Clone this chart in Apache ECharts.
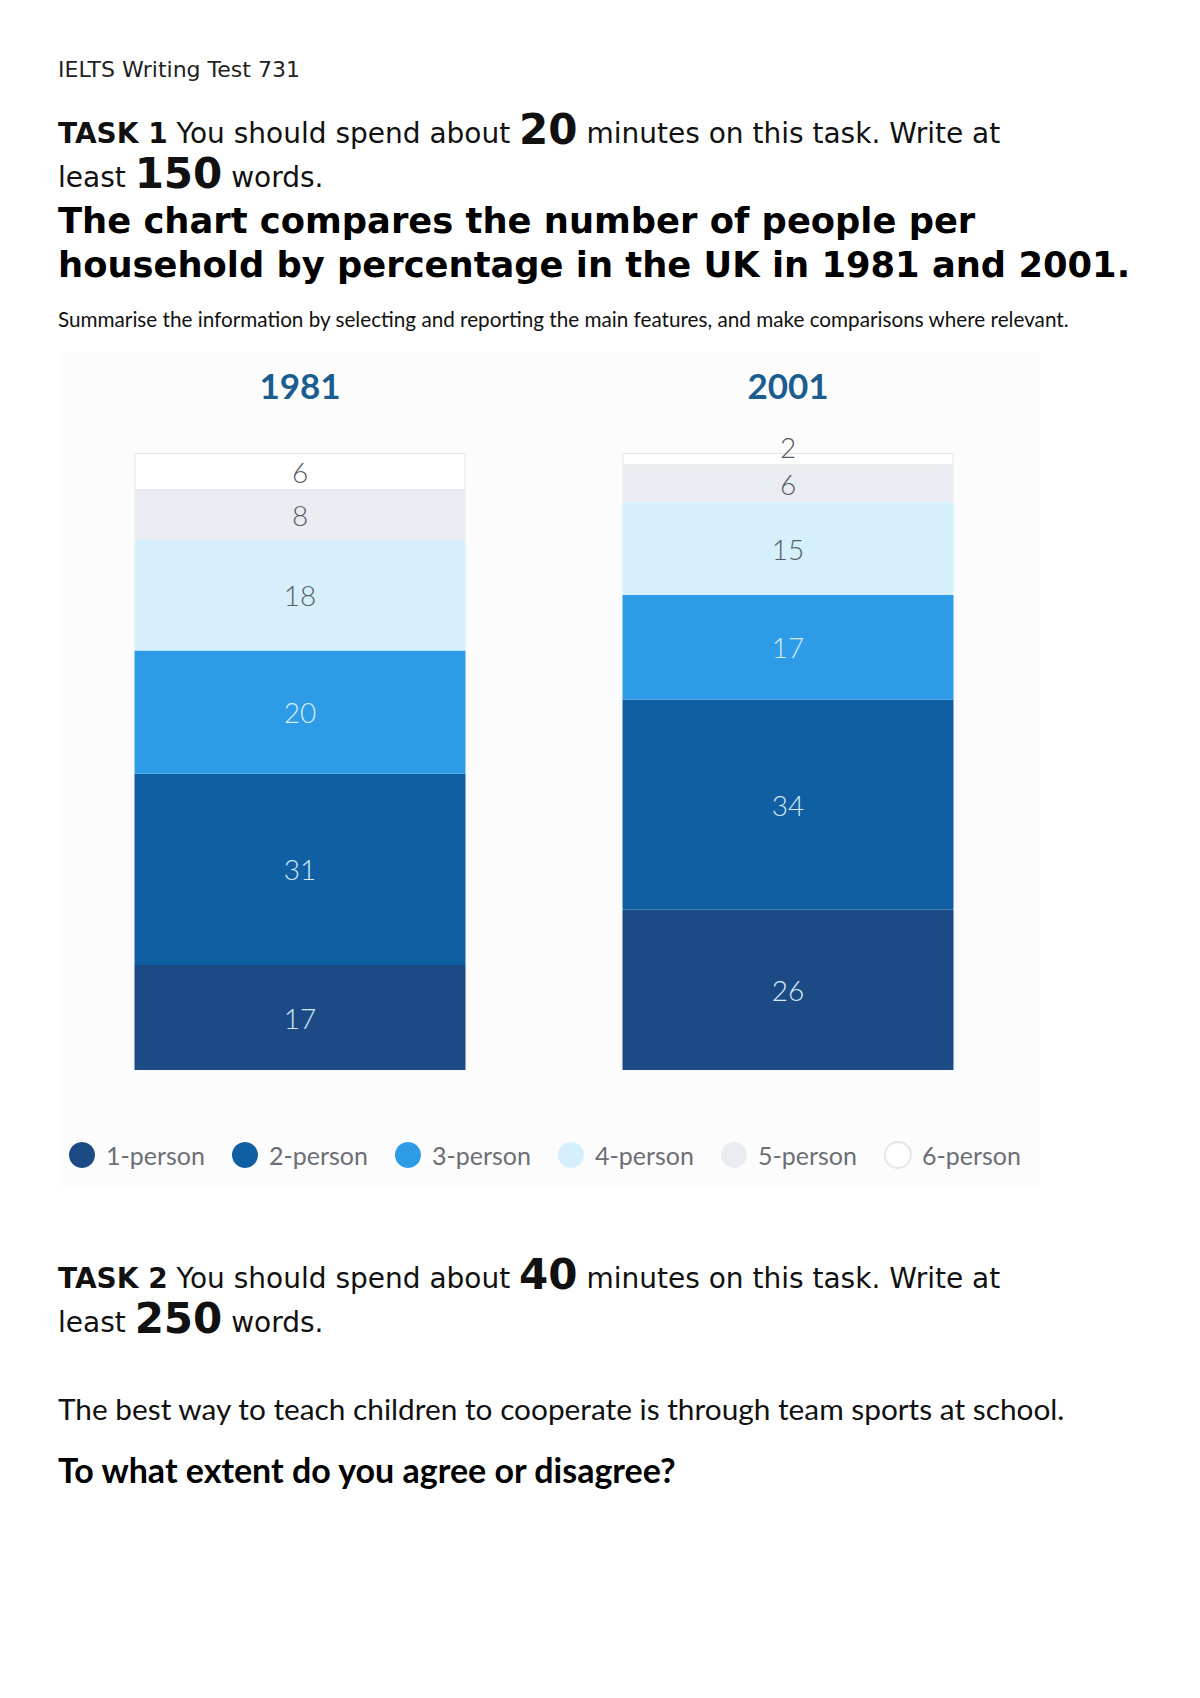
<!DOCTYPE html>
<html>
<head>
<meta charset="utf-8">
<script src="https://cdn.jsdelivr.net/npm/echarts@6/dist/echarts.min.js"></script>
<style>
html,body{margin:0;padding:0;background:#fff;}
#main{width:1200px;height:1698px;}
</style>
</head>
<body>
<div id="main"></div>
<script>
// ---- data ----
const years = ['1981', '2001'];
const seriesNames = ['1-person', '2-person', '3-person', '4-person', '5-person', '6-person'];
const person1 = [17, 26];
const person2 = [31, 34];
const person3 = [20, 17];
const person4 = [18, 15];
const person5 = [8, 6];
const person6 = [6, 2];
const values = [person1, person2, person3, person4, person5, person6];

const colors = ['#1b4a85', '#0f5fa2', '#2e9be7', '#d5effc', '#e9ecf1', '#ffffff'];
const labelColors = ['#d4ebfa', '#d4ebfa', '#d4ebfa', '#555b63', '#555b63', '#555b63'];

const chart = echarts.init(document.getElementById('main'), null, {renderer: 'svg', width: 1200, height: 1698});

const DV = "'DejaVu Sans', sans-serif";
const CAL = "Lato, 'Open Sans', sans-serif";

const series = seriesNames.map((name, i) => ({
  name: name,
  type: 'bar',
  stack: 'total',
  barWidth: 331,
  itemStyle: {
    color: colors[i],
    borderColor: i === 5 ? '#e3e6ea' : colors[i],
    borderWidth: i === 5 ? 1 : 0
  },
  label: {
    show: true,
    position: 'inside',
    color: labelColors[i],
    fontFamily: CAL,
    fontSize: 28,
    fontWeight: 300
  },
  emphasis: {disabled: true},
  data: values[i].map(v => v < 4 ? {value: v, label: {offset: [0, -12]}} : v)
}));

function taskLine(prefix, num, rest) {
  return {
    text: (prefix ? '{b|' + prefix + '}' : '') + '{r|' + (prefix ? ' ' : '') + rest[0] + '}{big|' + num + '}{r|' + rest[1] + '}',
    fill: '#111',
    rich: {
      b: {fontFamily: DV, fontWeight: 'bold', fontSize: 28, verticalAlign: 'bottom', padding: [0, 0, 3, 0]},
      r: {fontFamily: DV, fontSize: 28, verticalAlign: 'bottom', padding: [0, 0, 3, 0]},
      big: {fontFamily: DV, fontWeight: 'bold', fontSize: 42, verticalAlign: 'bottom'}
    }
  };
}

const option = {
  animation: false,
  backgroundColor: '#ffffff',
  color: colors,
  grid: {left: 56, right: 168, top: 453, bottom: 628, containLabel: false},
  xAxis: {
    type: 'category',
    data: years,
    position: 'top',
    axisLine: {show: false},
    axisTick: {show: false},
    axisLabel: {
      margin: 51,
      fontFamily: CAL,
      fontWeight: 'bold',
      fontSize: 35,
      color: '#1b5d90'
    }
  },
  yAxis: {
    type: 'value',
    min: 0,
    max: 100,
    show: false
  },
  legend: {
    data: seriesNames,
    left: 64,
    top: 1136,
    icon: 'circle',
    itemWidth: 26,
    itemHeight: 26,
    itemGap: 27,
    selectedMode: false,
    textStyle: {fontFamily: CAL, fontSize: 25, color: '#6b6f75', padding: [0, 0, 0, 6]}
  },
  graphic: [
    {type: 'rect', z: -10, silent: true, shape: {x: 60, y: 352, width: 980, height: 834}, style: {fill: '#fcfcfc'}},
    {type: 'text', left: 58, top: 58, style: {text: 'IELTS Writing Test 731', font: "22px 'DejaVu Sans'", fill: '#222'}},
    {type: 'text', left: 58, top: 108, style: taskLine('TASK 1', '20', ['You should spend about ', ' minutes on this task. Write at'])},
    {type: 'text', left: 58, top: 152, style: taskLine('', '150', ['least ', ' words.'])},
    {type: 'text', left: 58, top: 198, style: {
      text: 'The chart compares the number of people per\nhousehold by percentage in the UK in 1981 and 2001.',
      font: "bold 35.3px 'DejaVu Sans'", lineHeight: 44, fill: '#000'}},
    {type: 'text', left: 58, top: 308, style: {
      text: 'Summarise the information by selecting and reporting the main features, and make comparisons where relevant.',
      font: "20.7px Lato", fill: '#111'}},
    {type: 'text', left: 58, top: 1253, style: taskLine('TASK 2', '40', ['You should spend about ', ' minutes on this task. Write at'])},
    {type: 'text', left: 58, top: 1297, style: taskLine('', '250', ['least ', ' words.'])},
    {type: 'text', left: 58, top: 1393, style: {
      text: 'The best way to teach children to cooperate is through team sports at school.',
      font: "29.8px Lato", fill: '#111'}},
    {type: 'text', left: 58, top: 1452, style: {
      text: 'To what extent do you agree or disagree?',
      font: "bold 34px Lato", fill: '#000'}}
  ],
  series: series
};
chart.setOption(option);
</script>
</body>
</html>
